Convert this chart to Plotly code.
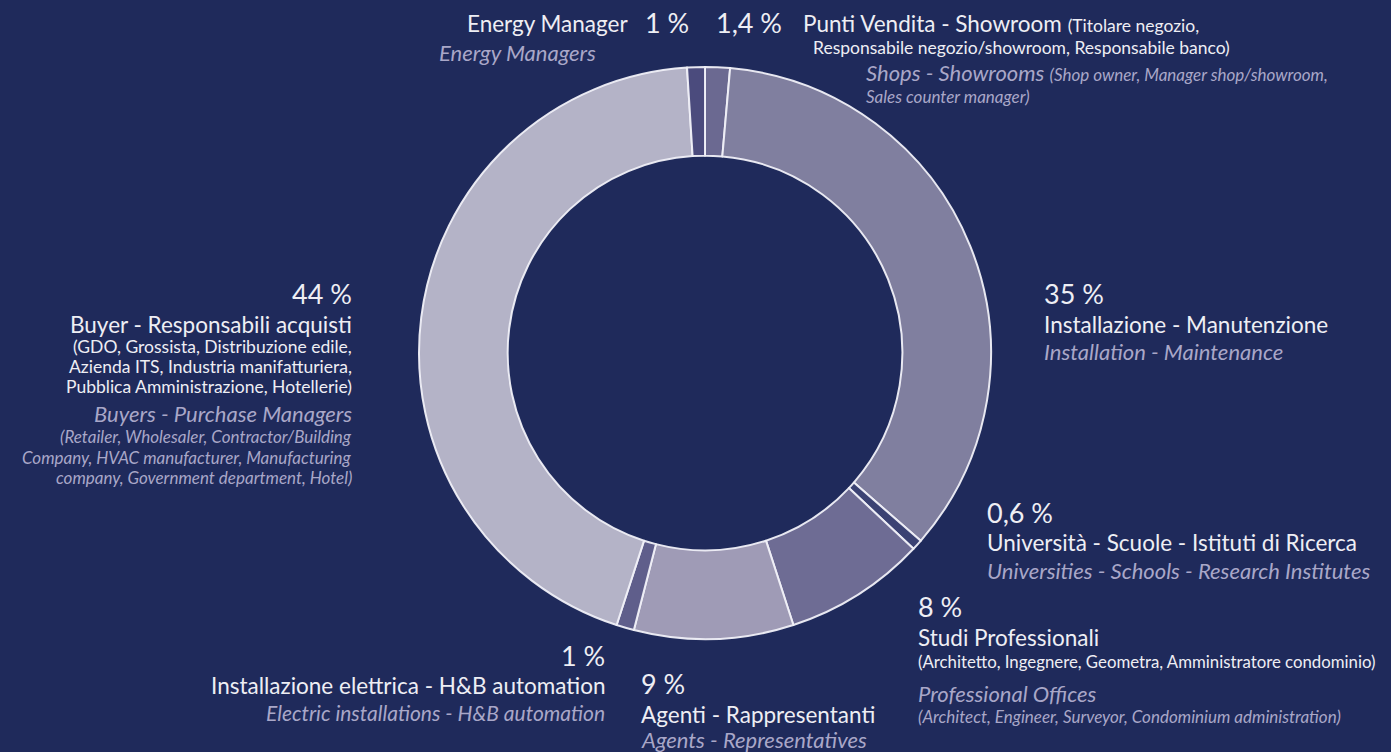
import plotly.graph_objects as go

W, H = 1391, 752

categories = [
    "Punti Vendita - Showroom",
    "Installazione - Manutenzione",
    "Università - Scuole - Istituti di Ricerca",
    "Studi Professionali",
    "Agenti - Rappresentanti",
    "Installazione elettrica - H&B automation",
    "Buyer - Responsabili acquisti",
    "Energy Manager",
]
values = [1.4, 35, 0.6, 8, 9, 1, 44, 1]
percent_labels = ["1,4 %", "35 %", "0,6 %", "8 %", "9 %", "1 %", "44 %", "1 %"]
slice_colors = ["#6b6991", "#807f9f", "#3b4273", "#6e6c94", "#9f9bb6",
                "#5f5e8b", "#b4b3c7", "#4b4b7d"]

BG = "#1f2a5b"
WHITE = "#eeeef4"
LAV = "#a9a7c8"
FONT = "Lato"

S_PCT, S_MAIN, S_IT, S_SM, S_SMI = 27, 22.5, 22, 17.5, 17

fig = go.Figure()

cx, cy, r = 705, 353, 286
fig.add_trace(go.Pie(
    labels=categories, values=values, sort=False, direction="clockwise",
    rotation=0, hole=0.69, textinfo="none", hoverinfo="label+percent",
    marker=dict(colors=slice_colors, line=dict(color="rgba(240,240,248,0.95)", width=2)),
    domain=dict(x=[(cx - r) / W, (cx + r) / W], y=[1 - (cy + r) / H, 1 - (cy - r) / H]),
    showlegend=False,
))


def px(x):
    return x / W


def py(y):
    return 1 - y / H


def note(x, y, text, size, color=WHITE, italic=False, anchor="left"):
    x = x + (2 if anchor == "right" else -2)
    fig.add_annotation(
        x=px(x), y=py(y), xref="paper", yref="paper", text=text, showarrow=False,
        xanchor=anchor, yanchor="middle",
        font=dict(family=FONT, size=size, color=color, style="italic" if italic else "normal"),
    )


# Energy Manager
note(628, 24, categories[7], S_MAIN, anchor="right")
note(645, 22, percent_labels[7], S_PCT)
note(596, 52, "Energy Managers", S_IT, LAV, True, "right")

# Punti Vendita
note(716, 22, percent_labels[0], S_PCT)
note(803, 24, categories[0] + " <span style='font-size:%spx'>(Titolare negozio,</span>" % S_SM, S_MAIN)
note(1230, 47, "Responsabile negozio/showroom, Responsabile banco)", S_SM, anchor="right")
note(866, 73, "Shops - Showrooms <span style='font-size:%spx'>(Shop owner, Manager shop/showroom,</span>" % S_SMI,
     S_IT, LAV, True)
note(866, 97, "Sales counter manager)", S_SMI, LAV, True)

# Installazione - Manutenzione
note(1044, 293, percent_labels[1], S_PCT)
note(1044, 324, categories[1], S_MAIN)
note(1044, 351, "Installation - Maintenance", S_IT, LAV, True)

# Università
note(987, 512, percent_labels[2], S_PCT)
note(987, 542, categories[2], S_MAIN)
note(987, 570, "Universities - Schools - Research Institutes", S_IT, LAV, True)

# Studi Professionali
note(918, 606, percent_labels[3], S_PCT)
note(918, 637, categories[3], S_MAIN)
note(918, 661, "(Architetto, Ingegnere, Geometra, Amministratore condominio)", 16.8)
note(918, 693, "Professional Offices", S_IT, LAV, True)
note(918, 716, "(Architect, Engineer, Surveyor, Condominium administration)", S_SMI, LAV, True)

# Agenti
note(641, 683, percent_labels[4], S_PCT)
note(641, 714, categories[4], S_MAIN)
note(641, 739, "Agents - Representatives", S_IT, LAV, True)

# Installazione elettrica
note(605, 655, percent_labels[5], S_PCT, anchor="right")
note(605, 685, categories[5], S_MAIN, anchor="right")
note(605, 712, "Electric installations - H&B automation", 21, LAV, True, "right")

# Buyer
note(352, 293, percent_labels[6], S_PCT, anchor="right")
note(352, 324, categories[6], S_MAIN, anchor="right")
for yy, t in [(346, "(GDO, Grossista, Distribuzione edile,"),
              (366, "Azienda ITS, Industria manifatturiera,"),
              (386, "Pubblica Amministrazione, Hotellerie)")]:
    note(352, yy, t, S_SM, anchor="right")
note(352, 414, "Buyers - Purchase Managers", S_IT, LAV, True, "right")
for yy, t in [(437, "(Retailer, Wholesaler, Contractor/Building"),
              (457, "Company, HVAC manufacturer, Manufacturing"),
              (478, "company, Government department, Hotel)")]:
    note(352, yy, t, S_SMI, LAV, True, "right")

fig.update_layout(
    width=W, height=H, paper_bgcolor=BG, plot_bgcolor=BG,
    margin=dict(l=0, r=0, t=0, b=0), font=dict(family=FONT),
)

fig.write_html(
    "out.html",
    config={"displayModeBar": False},
    post_script="document.body.style.margin='0';document.body.style.padding='0';"
                "document.body.style.background='%s';document.body.style.overflow='hidden';" % BG,
)
